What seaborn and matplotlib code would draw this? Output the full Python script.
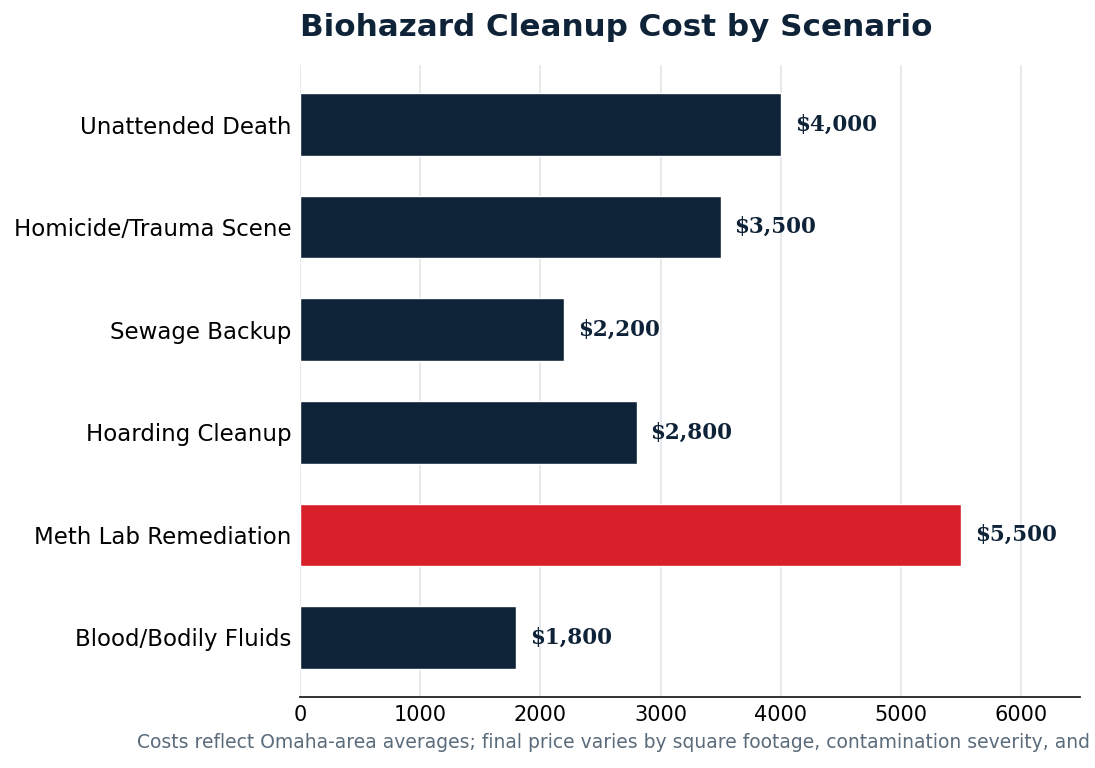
import matplotlib
matplotlib.use('Agg')
import matplotlib.pyplot as plt
import pandas as pd
import seaborn as sns

scenarios = ['Unattended Death', 'Homicide/Trauma Scene', 'Sewage Backup',
             'Hoarding Cleanup', 'Meth Lab Remediation', 'Blood/Bodily Fluids']
costs = [4000, 3500, 2200, 2800, 5500, 1800]
highlight = 'Meth Lab Remediation'

NAVY = '#0F2338'
RED = '#D7202A'


def main():
    sns.set_style('white')
    plt.rcParams['font.family'] = ['DejaVu Sans']

    df = pd.DataFrame({'scenario': scenarios, 'cost': costs})
    palette = {s: (RED if s == highlight else NAVY) for s in scenarios}

    fig = plt.figure(figsize=(10.95, 7.68), dpi=100)
    ax = fig.add_axes([300 / 1095, 1 - 697 / 768, 780 / 1095, 632 / 768])

    sns.barplot(data=df, x='cost', y='scenario', hue='scenario', palette=palette,
                order=scenarios, legend=False, width=0.61, saturation=1,
                ax=ax, zorder=3)

    for cont in ax.containers:
        ax.bar_label(cont, labels=[f'${v:,.0f}' for v in cont.datavalues],
                     padding=10, fontsize=15.5, fontweight='bold',
                     family='DejaVu Serif', color=NAVY)

    ax.set_xlim(0, max(costs) * 1.18)
    ax.set_ylim(len(scenarios) - 1 + 0.58, -0.58)
    ax.set_xticks(range(0, 7000, 1000))
    ax.grid(axis='x', color='#E3E6EA', linewidth=1.2, zorder=0)
    ax.set_axisbelow(True)

    for side in ['left', 'top', 'right']:
        ax.spines[side].set_visible(False)
    ax.spines['bottom'].set_color('#222222')
    ax.spines['bottom'].set_linewidth(1.3)

    ax.tick_params(axis='y', length=0, labelsize=16.5, pad=6, colors='black')
    ax.tick_params(axis='x', length=0, labelsize=15, pad=6, colors='black')
    ax.set_xlabel('')
    ax.set_ylabel('')

    ax.set_title('Biohazard Cleanup Cost by Scenario', loc='left', fontsize=22.3,
                 fontweight='bold', color=NAVY, pad=21)

    fig.text(137 / 1095, 1 - 743 / 768,
             'Costs reflect Omaha-area averages; final price varies by square footage, '
             'contamination severity, and access.',
             ha='left', va='center', fontsize=13.5, color='#5A6B7B')

    fig.savefig('out.png', dpi=100)
    plt.close(fig)


if __name__ == '__main__':
    main()
